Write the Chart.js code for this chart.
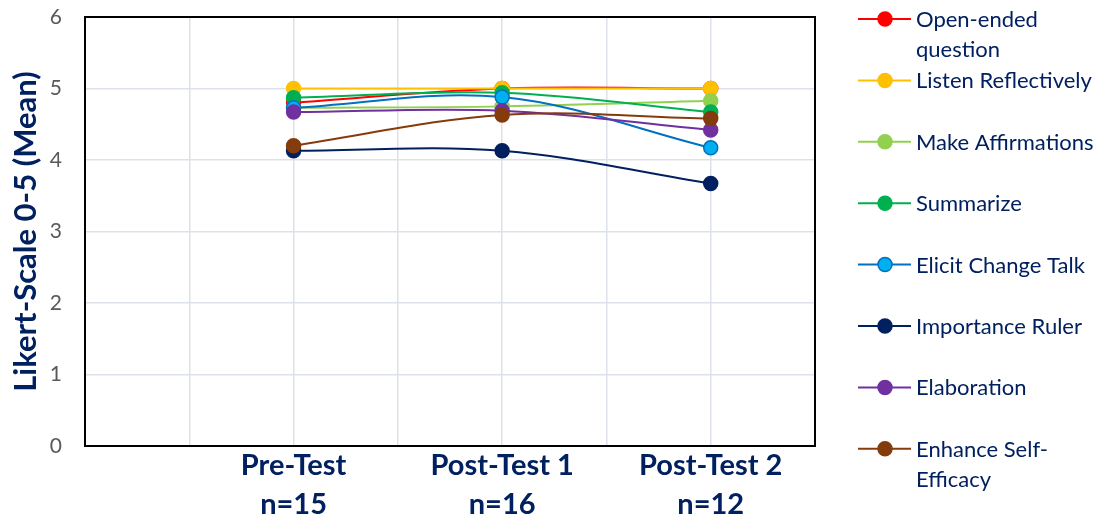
<!DOCTYPE html>
<html>
<head>
<meta charset="utf-8">
<script src="https://cdn.jsdelivr.net/npm/chart.js@4"></script>
<style>
  body { margin: 0; background: #fff; }
  #wrap { width: 1105px; height: 518px; position: relative; }
</style>
</head>
<body>
<div id="wrap"><canvas id="likert"></canvas></div>
<script>
// categories along the x axis (placed at x = 2, 4, 6 on a 0..7 axis)
const categories = ["Pre-Test", "Post-Test 1", "Post-Test 2"];
const sampleSizes = ["n=15", "n=16", "n=12"];
const xPositions = [2, 4, 6];
const yTicks = [0, 1, 2, 3, 4, 5, 6];

// one array per skill, means
const openEnded = [4.8, 5.0, 5.0];
const listenReflectively = [5.0, 5.0, 5.0];
const makeAffirmations = [4.73, 4.75, 4.83];
const summarize = [4.87, 4.94, 4.67];
const elicitChangeTalk = [4.73, 4.88, 4.17];
const importanceRuler = [4.13, 4.13, 3.67];
const elaboration = [4.67, 4.69, 4.42];
const enhanceSelfEfficacy = [4.2, 4.63, 4.58];

const seriesNames = ["Open-ended question", "Listen Reflectively", "Make Affirmations", "Summarize",
  "Elicit Change Talk", "Importance Ruler", "Elaboration", "Enhance Self-Efficacy"];
const legendLines = [["Open-ended", "question"], ["Listen Reflectively"], ["Make Affirmations"], ["Summarize"],
  ["Elicit Change Talk"], ["Importance Ruler"], ["Elaboration"], ["Enhance Self-", "Efficacy"]];
const seriesValues = [openEnded, listenReflectively, makeAffirmations, summarize,
  elicitChangeTalk, importanceRuler, elaboration, enhanceSelfEfficacy];
const lineColors = ["#FF0000", "#FFC000", "#92D050", "#00B050", "#0070C0", "#002060", "#7030A0", "#843C0C"];
const markerColors = ["#FF0000", "#FFC000", "#92D050", "#00B050", "#00B0F0", "#002060", "#7030A0", "#843C0C"];

const navy = "#002060";
const FONT = "Lato, 'Open Sans', sans-serif";

const datasets = seriesNames.map((name, i) => ({
  label: name,
  data: seriesValues[i].map((v, j) => ({ x: xPositions[j], y: v })),
  borderColor: lineColors[i],
  backgroundColor: markerColors[i],
  pointBackgroundColor: markerColors[i],
  pointBorderColor: lineColors[i],
  pointBorderWidth: 1.5,
  pointRadius: 7,
  borderWidth: 2,
  tension: 0.35,
  order: seriesNames.length - i   // later series drawn on top, like Excel
}));

// black box round the plot
const plotBox = {
  id: "plotBox",
  beforeDatasetsDraw(chart) {
    const a = chart.chartArea, ctx = chart.ctx;
    ctx.save();
    ctx.strokeStyle = "#000";
    ctx.lineWidth = 2;
    ctx.strokeRect(a.left, a.top, a.right - a.left, a.bottom - a.top);
    ctx.restore();
  }
};

// legend on the right with wrapped labels
const sideLegend = {
  id: "sideLegend",
  afterDraw(chart) {
    const ctx = chart.ctx;
    ctx.save();
    ctx.font = "22px " + FONT;
    ctx.textBaseline = "middle";
    chart.data.datasets.forEach((ds, i) => {
      const y = 19 + i * 61.4;
      ctx.strokeStyle = ds.borderColor;
      ctx.lineWidth = 2;
      ctx.beginPath();
      ctx.moveTo(858, y);
      ctx.lineTo(911, y);
      ctx.stroke();
      ctx.beginPath();
      ctx.arc(885, y, 7, 0, Math.PI * 2);
      ctx.fillStyle = ds.pointBackgroundColor;
      ctx.fill();
      ctx.lineWidth = 1.5;
      ctx.stroke();
      ctx.fillStyle = navy;
      legendLines[i].forEach((t, k) => ctx.fillText(t, 916, y + 1 + k * 30));
    });
    ctx.restore();
  }
};

new Chart(document.getElementById("likert"), {
  type: "line",
  data: { datasets: datasets },
  plugins: [plotBox, sideLegend],
  options: {
    responsive: true,
    maintainAspectRatio: false,
    animation: false,
    layout: { padding: { top: 17, right: 290, left: 0, bottom: 0 } },
    plugins: { legend: { display: false }, tooltip: { enabled: false } },
    scales: {
      x: {
        type: "linear",
        min: 0,
        max: 7,
        afterFit: (s) => { s.height = 72; s.paddingLeft = 0; s.paddingRight = 0; },
        afterBuildTicks: (s) => { s.ticks = [0, 1, 2, 3, 4, 5, 6, 7].map(v => ({ value: v })); },
        grid: { color: "#DDE2EA", lineWidth: 1.5, drawTicks: false },
        border: { display: false },
        ticks: {
          autoSkip: false,
          maxRotation: 0,
          padding: 0,
          color: navy,
          font: { family: FONT, size: 29, weight: "bold", lineHeight: 1.35 },
          callback: (v) => {
            const j = xPositions.indexOf(v);
            return j < 0 ? "" : [categories[j], sampleSizes[j]];
          }
        }
      },
      y: {
        min: 0,
        max: 6,
        afterFit: (s) => { s.width = 85; s.paddingTop = 0; s.paddingBottom = 0; },
        afterBuildTicks: (s) => { s.ticks = yTicks.map(v => ({ value: v })); },
        grid: { color: "#DDE2EA", lineWidth: 1.5, drawTicks: false },
        border: { display: false },
        ticks: { padding: 23, color: "#595959", font: { family: FONT, size: 21 } },
        title: {
          display: true,
          text: "Likert-Scale 0-5 (Mean)",
          color: navy,
          padding: { top: 7, bottom: 0 },
          font: { family: FONT, size: 31, weight: "bold" }
        }
      }
    }
  }
});
</script>
</body>
</html>
